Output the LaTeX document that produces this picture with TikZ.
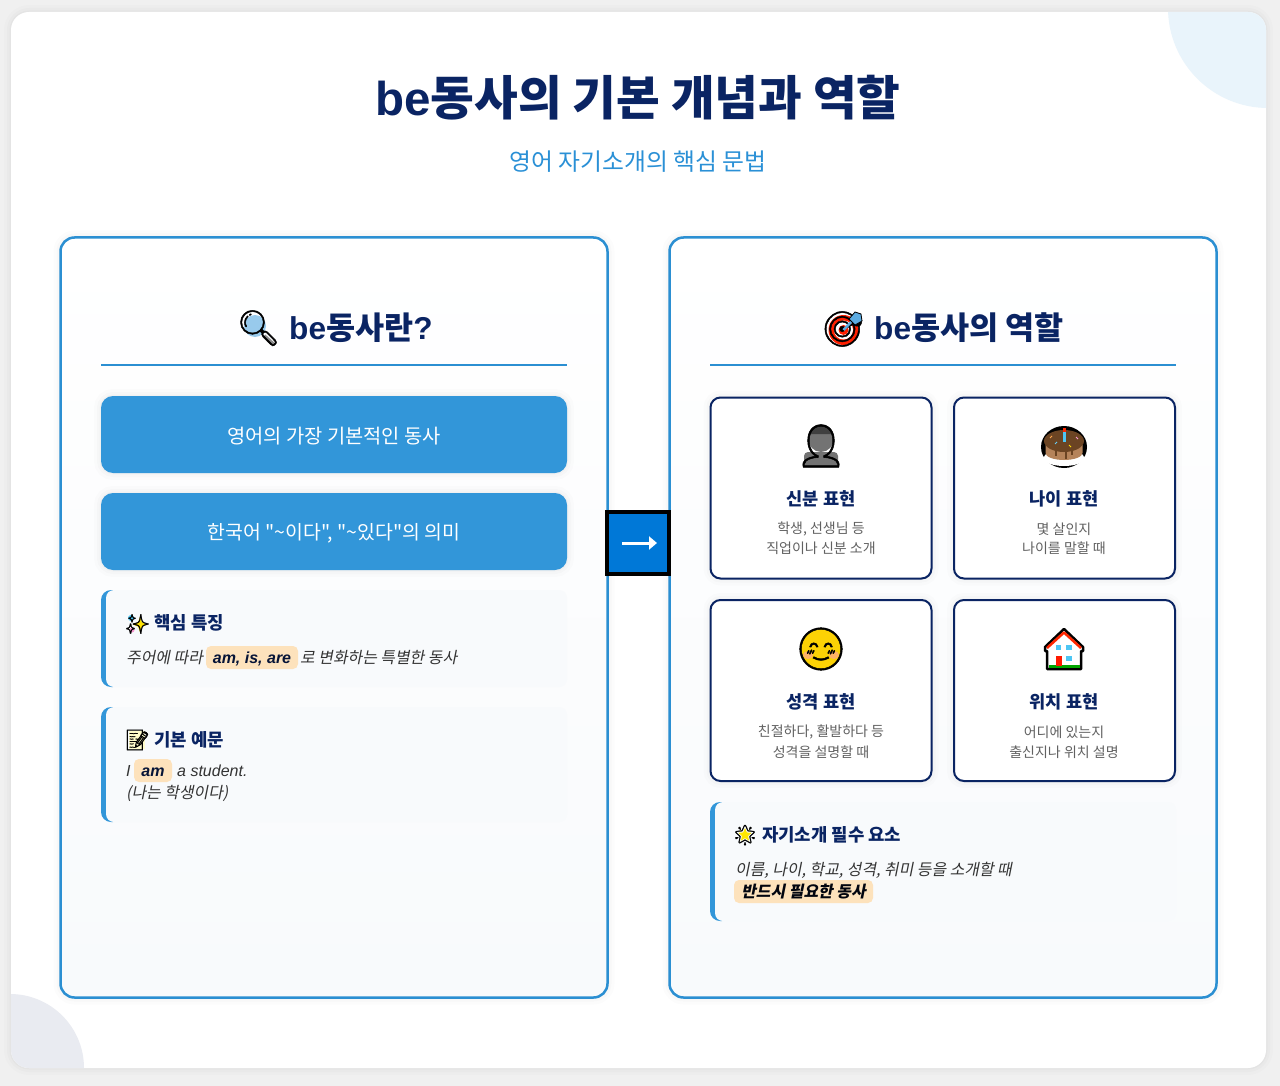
\documentclass[tikz,border=0pt]{standalone}
\usepackage{fontspec}
\setmainfont{Noto Sans CJK KR}
\newfontfamily\krplain{Noto Sans CJK KR}
\newfontfamily\krslant{Noto Sans CJK KR}[FakeSlant=0.2,BoldFeatures={FakeSlant=0.2}]
\newfontfamily\latin{Liberation Sans}
\newfontfamily\emoji{Noto Emoji}[FakeBold=1.2]
\newcommand{\fs}[1]{\fontsize{#1}{#1}\selectfont}
\usetikzlibrary{positioning, shapes.geometric, arrows.meta}
\definecolor{navy}{HTML}{0A2463}
\definecolor{skyline}{HTML}{3296D9}
\definecolor{rimblue}{HTML}{2B8FD2}
\definecolor{subtitle}{HTML}{2A90D6}
\definecolor{peach}{HTML}{FDE2BC}
\definecolor{flowblue}{HTML}{0078D7}
\definecolor{notebg}{HTML}{F8FAFC}
\definecolor{cakebrown}{HTML}{6B4423}
\definecolor{caketan}{HTML}{B5835A}
\tikzset{softshadow/.style={preaction={draw=black,draw opacity=.012,line width=14pt,yshift=-3pt},
                            preaction={draw=black,draw opacity=.015,line width=8pt,yshift=-3pt},
                            preaction={draw=black,draw opacity=.02,line width=3pt,yshift=-2pt}},
         panel/.style={draw=rimblue,line width=2.5pt,rounded corners=14pt,top color=white,bottom color=notebg,
                       minimum width=547pt,minimum height=760pt,softshadow},
         bluebtn/.style={fill=skyline,rounded corners=12pt,minimum width=466pt,minimum height=77pt,text=white,softshadow},
         btntext/.style={text=white,inner sep=0pt},
         rolecard/.style={draw=navy,fill=white,line width=2pt,rounded corners=10pt,minimum width=221pt,minimum height=181pt,softshadow},
         notebar/.style={fill=skyline,rounded corners=10pt,minimum width=22pt},
         notefill/.style={fill=notebg,rounded corners=8pt,minimum width=461pt},
         peachbox/.style={fill=peach,rounded corners=5pt,inner sep=0pt,text height=17pt,text depth=6pt,text=navy!55!black,font=\latin\itshape\bfseries\fs{16}},
         headtext/.style={text=navy,font=\bfseries\fs{31.6},inner sep=0pt},
         notehead/.style={text=navy,font=\bfseries\fs{17.8},inner sep=0pt,anchor=base west},
         notebody/.style={text=black!80,font=\krslant\fs{15.9},inner sep=0pt,anchor=base west},
         roletitle/.style={text=navy,font=\bfseries\fs{17.6},inner sep=0pt,yshift=-.5pt},
         roletext/.style={text=black!62,font=\fs{14},inner sep=0pt,yshift=-1pt},
         glyph/.style={inner sep=0pt,font=\emoji\fs{#1}}}

\begin{document}
\begin{tikzpicture}[x=1pt,y=-1pt]
        \useasboundingbox(0,0)rectangle(1280,1086);
        \fill[black!6](0,0)rectangle(1280,1086);

        % card
        \node[fill=white,rounded corners=18pt,minimum width=1255pt,minimum height=1056pt,softshadow](card)at(638.5,540){};
        \begin{scope}
                \clip[rounded corners=18pt](11,12)rectangle(1266,1068);
                \fill[skyline!11](1268,8)circle(100);
                \fill[navy!9](10,1068)circle(74);
        \end{scope}

        \node[text=navy,font=\bfseries\fs{47.5},inner sep=0pt](title)at(638,98){{\latin be}동사의 기본 개념과 역할};
        \node[text=subtitle,font=\fs{23.8},inner sep=0pt](sub)at(638,162){영어 자기소개의 핵심 문법};

        % panels
        \node[panel](left)at(334,617.5){};
        \node[panel](right)at(943,617.5){};

        % left panel
        \fill[skyline!50](255,326)circle(11);
        \draw[black!45,line width=4pt](264,336)--(274,345);
        \node[glyph=35](lens)at(258.5,328){🔍};
        \node[headtext,anchor=west](lefthead)at(289,328){{\latin be}동사란{\latin ?}};
        \coordinate(la)at(101,365);
        \coordinate(lb)at(567,365);
        \draw[rimblue,line width=2.5pt](la)--(lb);

        \node[bluebtn](btn1)at(334,434.5){};
        \node[btntext,font=\fs{19.8}](btn1t)at(334,436.5){영어의 가장 기본적인 동사};
        \node[bluebtn](btn2)at(334,531.5){};
        \node[btntext,font=\krplain\fs{19.4}](btn2t)at(334,533.5){한국어 "\textasciitilde 이다", "\textasciitilde 있다"의 의미};

        \node[notebar,minimum height=97pt](n1bar)at(112,638.5){};
        \node[notefill,minimum height=97pt](n1)at(336.5,638.5){};
        \node[star,star points=4,star point ratio=2.6,fill=yellow!85!orange,minimum size=15pt,inner sep=0pt](n1col)at(140,624.5){};
        \fill[cyan!70](131,618)circle(3);
        \fill[magenta!40](132,630)circle(2.5);
        \node[glyph=19](n1icon)at(137.5,624){✨};
        \node[notehead](n1head)at(154,629){핵심 특징};
        \node[notebody](n1a)at(126,663){주어에 따라};
        \node[peachbox,minimum width=92pt](n1hl)at(252,657.5){am, is, are};
        \node[notebody](n1b)at(300,663){로 변화하는 특별한 동사};

        \node[notebar,minimum height=115pt](n2bar)at(112,764.5){};
        \node[notefill,minimum height=115pt](n2)at(336.5,764.5){};
        \fill[yellow!20](129,731)rectangle(145,749);
        \node[glyph=20](n2icon)at(137.5,740){📝};
        \node[notehead](n2head)at(154,746){기본 예문};
        \node[notebody,font=\latin\itshape\fs{16}](n2a)at(126,776.5){I};
        \node[peachbox,minimum width=38pt](n2hl)at(153,770.5){am};
        \node[notebody,font=\latin\itshape\fs{16}](n2b)at(177,776.5){a student.};
        \node[notebody](n2c)at(126,798){(나는 학생이다)};

        % right panel
        \fill[red!75!orange](843.5,330)circle(15);
        \fill[white](843.5,330)circle(9.5);
        \fill[red!75!orange](843.5,330)circle(5);
        \node[glyph=35](goal)at(843.5,329){🎯};
        \draw[skyline!80!white,line width=2.5pt](843.5,330)--(853,320);
        \fill[skyline!80!white,draw=black,line width=.8pt](849,319)--(855,312)--(861,314)--(862,321)--(855,325)--cycle;
        \node[headtext,anchor=west](righthead)at(874,328){{\latin be}동사의 역할};
        \coordinate(ra)at(710,365);
        \coordinate(rb)at(1176,365);
        \draw[rimblue,line width=2.5pt](ra)--(rb);

        \node[rolecard](c1)at(821,488){};
        \node[rolecard](c2)at(1064.5,488){};
        \node[rolecard](c3)at(821,690.5){};
        \node[rolecard](c4)at(1064.5,690.5){};

        \fill[black!55](821,438)ellipse(13 and 14);
        \fill[black!75](809,434) arc(180:360:12 and 9)--cycle;
        \fill[black!55,rounded corners=4pt](804,467)rectangle(838,452);
        \node[glyph=42](c1icon)at(821,446){👤};
        \node[roletitle](c1head)at(821,498){신분 표현};
        \node[roletext](c1a)at(821,528){학생, 선생님 등};
        \node[roletext](c1b)at(821,547){직업이나 신분 소개};

        \node[glyph=34](c2icon)at(1064,446){🎂};
        \fill[black](1064,447)ellipse(23 and 21);
        \fill[white](1064,458)ellipse(20.5 and 8);
        \fill[caketan](1045.5,445)--(1082.5,445)--(1082.5,453) arc(0:180:18.5 and 7)--cycle;
        \fill[cakebrown](1064,441)ellipse(20 and 11);
        \draw[cakebrown,line width=2pt](1056,450)--(1056,456);
        \draw[cakebrown,line width=2pt](1066,451)--(1066,459);
        \draw[cakebrown,line width=2pt](1072,450)--(1072,455);
        \draw[orange!70,line width=1pt](1050,438)--(1052,436);
        \draw[magenta!40,line width=1pt](1076,437)--(1078,439);
        \draw[cyan!60,line width=1pt](1055,444)--(1057,442);
        \draw[yellow!80!orange,line width=1pt](1069,445)--(1071,447);
        \draw[cyan!70,line width=2.5pt](1064.5,432)--(1064.5,442);
        \fill[red!70!orange](1063.2,428)rectangle(1065.8,432);
        \node[roletitle](c2head)at(1064,498){나이 표현};
        \node[roletext](c2a)at(1064,528){몇 살인지};
        \node[roletext](c2b)at(1064,547){나이를 말할 때};

        \fill[yellow!70!orange](821,649)circle(20);
        \fill[orange!60](808,655)ellipse(5 and 4);
        \fill[orange!60](834,655)ellipse(5 and 4);
        \node[glyph=42](c3icon)at(821,649){😊};
        \node[roletitle](c3head)at(821,701){성격 표현};
        \node[roletext](c3a)at(821,731){친절하다, 활발하다 등};
        \node[roletext](c3b)at(821,751){성격을 설명할 때};

        \node[glyph=26](c4icon)at(1064,654){🏠};
        \fill[white,draw=black,line width=2.5pt,line join=round](1047,669)--(1047,651)--(1045,651)--(1045,647)--(1064,629)--(1083,647)--(1083,651)--(1081,651)--(1081,669)--cycle;
        \draw[red!70!orange,line width=2.5pt,line join=round](1047,648)--(1064,632.5)--(1081,648);
        \fill[green!65!black](1048.5,665)rectangle(1079.5,668);
        \fill[red!80!orange](1056,656)rectangle(1062,666);
        \fill[cyan!70](1056,645)rectangle(1061,650);
        \fill[cyan!70](1066,645)rectangle(1071.5,650);
        \fill[cyan!70](1066,656)rectangle(1071.5,661);
        \node[roletitle](c4head)at(1064,701){위치 표현};
        \node[roletext](c4a)at(1064,731){어디에 있는지};
        \node[roletext](c4b)at(1064,751){출신지나 위치 설명};

        \node[notebar,minimum height=119pt](n3bar)at(721,861.5){};
        \node[notefill,minimum height=119pt](n3)at(945.5,861.5){};
        \node[star,star points=5,star point ratio=2.2,fill=yellow!90!orange,minimum size=14pt,inner sep=0pt](n3col)at(745,835){};
        \node[glyph=20](n3icon)at(745,835){🌟};
        \node[notehead](n3head)at(762,841){자기소개 필수 요소};
        \node[notebody](n3a)at(735,875){이름, 나이, 학교, 성격, 취미 등을 소개할 때};
        \node[peachbox,minimum width=139pt,font=\krslant\bfseries\fs{15.9},text=black!85!navy](n3hl)at(803.5,891.5){반드시 필요한 동사};

        % flow box between the panels
        \node[draw=black,line width=4pt,fill=flowblue,minimum size=62pt,inner sep=0pt](flow)at(638,543){};
        \coordinate(fa)at(622,543);
        \coordinate(fb)at(657,543);
        \draw[white,line width=3pt,-{Triangle[width=13pt,length=8pt]}](fa)--(fb);
\end{tikzpicture}
\end{document}
